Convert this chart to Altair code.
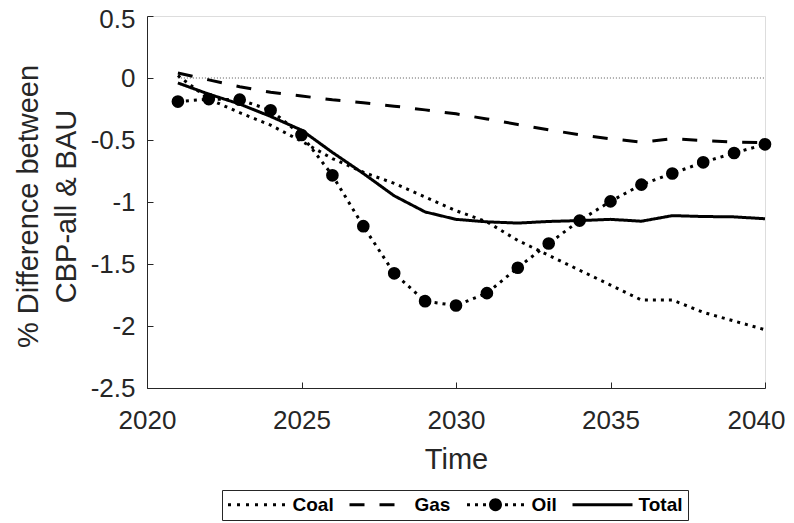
import altair as alt
import pandas as pd

# ---------------- data ----------------
years = list(range(2021, 2041))
coal = [0.02, -0.17, -0.28, -0.38, -0.51, -0.65, -0.76, -0.85, -0.96, -1.07,
        -1.16, -1.31, -1.43, -1.55, -1.67, -1.79, -1.79, -1.89, -1.96, -2.03]
gas = [0.04, -0.015, -0.07, -0.115, -0.145, -0.176, -0.20, -0.227, -0.257, -0.289,
       -0.33, -0.375, -0.418, -0.458, -0.49, -0.517, -0.49, -0.504, -0.517, -0.52]
oil = [-0.19, -0.17, -0.175, -0.26, -0.46, -0.785, -1.195, -1.575, -1.80, -1.835,
       -1.735, -1.53, -1.335, -1.15, -0.995, -0.86, -0.77, -0.68, -0.605, -0.535]
total = [-0.04, -0.13, -0.21, -0.31, -0.42, -0.60, -0.77, -0.95, -1.08, -1.14,
         -1.16, -1.17, -1.157, -1.15, -1.14, -1.155, -1.11, -1.117, -1.12, -1.135]
series_names = ["Coal", "Gas", "Oil", "Total"]
x_ticks = [2020, 2025, 2030, 2035, 2040]
y_ticks = [-2.5, -2, -1.5, -1, -0.5, 0, 0.5]
zero_years = [2021, 2040]
zero_vals = [0, 0]
y_title = ["% Difference between", "CBP-all & BAU"]
x_title = "Time"

rows = []
for name, vals in zip(series_names, [coal, gas, oil, total]):
    for yr, v in zip(years, vals):
        rows.append({"year": yr, "value": v, "series": name})
df = pd.DataFrame(rows)
oil_df = df[df["series"] == "Oil"]
zero_df = pd.DataFrame({"year": zero_years, "value": zero_vals})

# ---------------- styles ----------------
FONT = "Liberation Sans"
TXT = "#262626"
dash_range = [[3, 5], [15, 15], [3, 5], [1, 0]]

# legend key glyphs (filled paths; 1 unit = 5 px at symbolSize 100)
U = 5.0
SHIFT = 20.0


def _rect(x0, x1, h=3.0):
    a, b = (x0 + SHIFT) / U, (x1 + SHIFT) / U
    t = h / 2 / U
    return f"M{a:.3f},{-t:.3f}H{b:.3f}V{t:.3f}H{a:.3f}Z"


def _circle(cx, r):
    c, rr = (cx + SHIFT) / U, r / U
    return (f"M{c + rr:.3f},0A{rr:.3f},{rr:.3f},0,1,1,{c - rr:.3f},0"
            f"A{rr:.3f},{rr:.3f},0,1,1,{c + rr:.3f},0Z")


coal_key = "".join(_rect(-28.5 + 9 * k, -25.5 + 9 * k) for k in range(7))
gas_key = _rect(-29, -14) + _rect(1, 16)
oil_key = ("".join(_rect(s, s + 3) for s in [-28.5, -20.5, -12.5, 9.5, 17.5, 25.5])
           + _circle(0, 6.5))
total_key = _rect(-30, 30)
shape_range = [coal_key, gas_key, oil_key, total_key]

xscale = alt.Scale(domain=[2020, 2040], nice=False, zero=False)
yscale = alt.Scale(domain=[-2.5, 0.5], nice=False, zero=False)
dash_scale = alt.Scale(domain=series_names, range=dash_range)
shape_scale = alt.Scale(domain=series_names, range=shape_range)

main_x = alt.Axis(
    orient="bottom", values=x_ticks, format="d", title=x_title, grid=False,
    ticks=False, domainColor=TXT, domainWidth=1, labelFont=FONT,
    labelFontSize=26, labelColor=TXT, labelPadding=19, labelFlush=False,
    labelOverlap=False, labelBound=False,
    labelOffset={"condition": {"test": "datum.value == 2040", "value": -9},
                 "value": 0},
    titleFont=FONT, titleFontSize=29,
    titleFontWeight="normal", titleColor=TXT, titleBaseline="alphabetic",
    titleY=80,
)
main_y = alt.Axis(
    orient="left", values=y_ticks, labelExpr="toString(datum.value)",
    title=y_title, grid=False, ticks=False, domainColor=TXT, domainWidth=1,
    labelFont=FONT, labelFontSize=26, labelColor=TXT, labelPadding=12,
    labelFlush=False, labelOverlap=False, labelBound=False,
    labelOffset={"condition": {"test": "datum.value == 0.5", "value": 3},
                 "value": 0},
    titleFont=FONT, titleFontSize=29,
    titleFontWeight="normal", titleColor=TXT, titleBaseline="bottom",
    titleLineHeight=38, titleX=-104, titleY=190,
)
tick_x = alt.Axis(
    orient="bottom", values=x_ticks, offset=-6, tickSize=6, labels=False,
    domain=False, title=None, grid=False, tickColor=TXT, tickWidth=1,
)
tick_y = alt.Axis(
    orient="left", values=y_ticks, offset=-6, tickSize=6, labels=False,
    domain=False, title=None, grid=False, tickColor=TXT, tickWidth=1,
)

legend_props = dict(
    orient="none", legendX=75, legendY=474, direction="horizontal",
    title=None, symbolSize=100, labelOffset=46.5,
    columnPadding=15, padding=5, strokeColor=TXT, fillColor="white",
    labelFont=FONT, labelFontSize=19, labelFontWeight="bold",
    labelColor="black", symbolStrokeWidth=0, symbolFillColor="black",
    cornerRadius=0,
)

# ---------------- layers ----------------
# legend carrier: no rows drawn, only supplies the legend key glyphs
legend_layer = alt.Chart(df).transform_filter("false").mark_point(
    filled=True, fill="black", size=100, opacity=1, strokeWidth=0
).encode(
    x=alt.X("year:Q", scale=xscale, axis=None),
    y=alt.Y("value:Q", scale=yscale, axis=None),
    shape=alt.Shape("series:N", scale=shape_scale,
                    legend=alt.Legend(**legend_props)),
    strokeDash=alt.StrokeDash("series:N", scale=dash_scale,
                              legend=alt.Legend(**legend_props)),
)

zero_line = alt.Chart(zero_df).mark_line(
    color="#555555", strokeWidth=1, strokeDash=[1, 2]
).encode(
    x=alt.X("year:Q", scale=xscale, axis=tick_x),
    y=alt.Y("value:Q", scale=yscale, axis=tick_y),
)

lines = alt.Chart(df).mark_line(color="black", strokeWidth=3).encode(
    x=alt.X("year:Q", scale=xscale, axis=main_x),
    y=alt.Y("value:Q", scale=yscale, axis=main_y),
    strokeDash=alt.StrokeDash("series:N", scale=dash_scale,
                              legend=alt.Legend(**legend_props)),
    detail="series:N",
)

oil_points = alt.Chart(oil_df).mark_point(
    filled=True, fill="black", size=160, opacity=1, shape="circle",
    strokeWidth=0
).encode(
    x=alt.X("year:Q", scale=xscale, axis=None),
    y=alt.Y("value:Q", scale=yscale, axis=None),
)

chart = alt.layer(legend_layer, zero_line, lines, oil_points).resolve_axis(
    x="independent", y="independent"
).properties(
    width=618, height=372,
    autosize=alt.AutoSizeParams(type="none"),
    padding={"left": 139, "top": 8, "right": 21, "bottom": 134},
).configure_view(strokeWidth=0).configure(background="white")

chart.save("out.html", embed_options={"renderer": "svg", "actions": False})
